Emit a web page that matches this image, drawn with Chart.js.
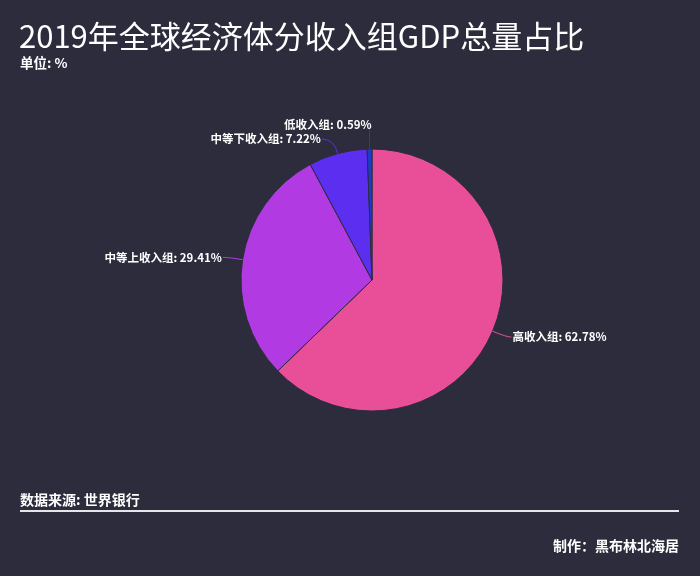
<!DOCTYPE html>
<html>
<head>
<meta charset="utf-8">
<script src="https://cdn.jsdelivr.net/npm/chart.js@4"></script>
<style>
html,body{margin:0;padding:0;background:#2d2c3d;}
#wrap{position:relative;width:700px;height:576px;}
</style>
</head>
<body>
<div id="wrap"><canvas id="gdpChart" width="700" height="576"></canvas></div>
<script>
// 2019 GDP share by income group (%)
const groups = ["高收入组", "中等上收入组", "中等下收入组", "低收入组"];
const shares = [62.78, 29.41, 7.22, 0.59];
const colors = ["#e84f98", "#b13ae3", "#5c2ef0", "#1a3ec8"];

const BG = "#2d2c3d";
const FONT = "'Noto Sans CJK SC', 'Noto Sans', sans-serif";

// title, subtitle and footer texts
const textPlugin = {
  id: "texts",
  afterDraw(chart){
    const ctx = chart.ctx;
    ctx.save();
    ctx.fillStyle = "#ffffff";
    ctx.textBaseline = "alphabetic";
    ctx.textAlign = "left";
    ctx.font = "31px " + FONT;
    ctx.fillText("2019年全球经济体分收入组GDP总量占比", 19, 48);
    ctx.font = "bold 13.5px " + FONT;
    ctx.fillText("单位: %", 20, 68);
    ctx.font = "bold 14px " + FONT;
    ctx.fillText("数据来源: 世界银行", 20, 505);
    ctx.fillStyle = "#e6e6ea";
    ctx.fillRect(20, 510, 659, 2);
    ctx.fillStyle = "#ffffff";
    ctx.textAlign = "right";
    ctx.fillText("制作：黑布林北海居", 679, 551);
    ctx.restore();
  }
};

// outside labels with leader lines
const labelPlugin = {
  id: "outLabels",
  afterDatasetsDraw(chart){
    const ctx = chart.ctx;
    const meta = chart.getDatasetMeta(0);
    const items = [];
    meta.data.forEach(function(arc, i){
      const mid = (arc.startAngle + arc.endAngle) / 2;
      const r = arc.outerRadius;
      const cx = Math.cos(mid), cy = Math.sin(mid);
      const p0 = {x: arc.x + cx * r, y: arc.y + cy * r};
      const p1 = {x: arc.x + cx * (r + 15), y: arc.y + cy * (r + 15)};
      items.push({i: i, p0: p0, p1: p1, right: cx >= 0, y: p1.y, moved: false});
    });
    // push overlapping labels apart on each side
    [true, false].forEach(function(side){
      const list = items.filter(function(it){ return it.right === side; })
        .sort(function(a, b){ return b.y - a.y; });
      for(let k = 1; k < list.length; k++){
        if(list[k].y > list[k-1].y - 14){
          list[k].y = list[k-1].y - 14;
          list[k].moved = true;
        }
      }
    });
    ctx.save();
    ctx.font = "bold 11.5px " + FONT;
    ctx.textBaseline = "middle";
    items.forEach(function(it){
      const dir = it.right ? 1 : -1;
      ctx.strokeStyle = colors[it.i];
      ctx.lineWidth = 1;
      ctx.beginPath();
      ctx.moveTo(it.p0.x, it.p0.y);
      let tx;
      if(it.moved){
        ctx.quadraticCurveTo(it.p0.x, it.y, it.p0.x + dir * 0.5, it.y - 2);
        tx = it.p0.x + 2;
      } else {
        const len2 = it.p1.y < it.p0.y && Math.abs(it.p1.x - it.p0.x) < 8 ? 12 : 5;
        const p2 = {x: it.p1.x + dir * len2, y: it.y};
        ctx.quadraticCurveTo(it.p1.x, it.y, p2.x, p2.y);
        tx = p2.x + dir * 1;
      }
      ctx.stroke();
      ctx.fillStyle = "#ffffff";
      ctx.textAlign = it.right ? "left" : "right";
      ctx.fillText(groups[it.i] + ": " + shares[it.i].toFixed(2) + "%", tx, it.y);
    });
    ctx.restore();
  }
};

new Chart(
  document.getElementById("gdpChart"),
  {
    type: "pie",
    data: {
      labels: groups,
      datasets: [{
        data: shares,
        backgroundColor: colors,
        borderColor: BG,
        borderWidth: 1
      }]
    },
    options: {
      responsive: false,
      animation: false,
      radius: 131,
      layout: {padding: {left: 241, right: 197, top: 149, bottom: 165}},
      plugins: {
        legend: {display: false},
        tooltip: {enabled: false}
      }
    },
    plugins: [textPlugin, labelPlugin]
  }
);
</script>
</body>
</html>
